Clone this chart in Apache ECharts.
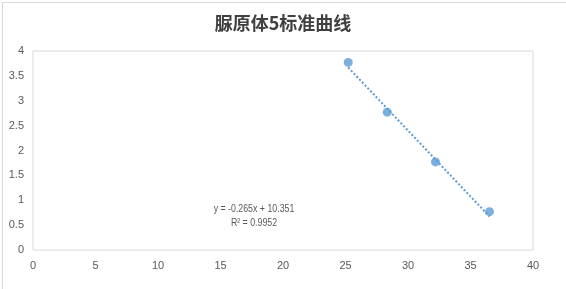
<!DOCTYPE html>
<html><head><meta charset="utf-8">
<script src="https://cdn.jsdelivr.net/npm/echarts@6/dist/echarts.min.js"></script>
<style>html,body{margin:0;padding:0;background:#fff}#c{width:566px;height:289px}</style>
</head><body><div id="c"></div>
<script>
const titleText = '脲原体5标准曲线';
const xValues = [25.22, 28.34, 32.2, 36.52];
const yValues = [3.77, 2.77, 1.77, 0.77];
const slope = -0.265, intercept = 10.351, r2 = 0.9952;
const xTicks = [0, 5, 10, 15, 20, 25, 30, 35, 40];
const yTicks = [0, 0.5, 1, 1.5, 2, 2.5, 3, 3.5, 4];

const pts = xValues.map((x, i) => [x, yValues[i]]);
const xmin = Math.min(...xValues), xmax = Math.max(...xValues);
const trend = [[xmin, slope * xmin + intercept], [xmax, slope * xmax + intercept]];

const chart = echarts.init(document.getElementById('c'));
const labelColor = '#595959';
chart.setOption({
  animation: false,
  title: { text: titleText, left: 'center', top: 9,
    textStyle: { fontFamily: 'Noto Sans CJK SC', fontSize: 18, fontWeight: 'bold', color: '#404040' } },
  grid: { left: 33, right: 33, top: 51, bottom: 39, show: true, borderColor: '#d9d9d9', borderWidth: 1 },
  xAxis: { type: 'value', min: xTicks[0], max: xTicks[xTicks.length-1], interval: 5,
    axisLine: { show: false }, axisTick: { show: false }, splitLine: { show: false },
    axisLabel: { color: labelColor, fontSize: 11, fontFamily: 'Liberation Sans', margin: 10 } },
  yAxis: { type: 'value', min: yTicks[0], max: yTicks[yTicks.length-1], interval: 0.5,
    axisLine: { show: false }, axisTick: { show: false }, splitLine: { show: false },
    axisLabel: { color: labelColor, fontSize: 11, fontFamily: 'Liberation Sans', margin: 9 } },
  series: [
    { type: 'line', data: trend, symbol: 'none', silent: true,
      lineStyle: { color: '#5B9BD5', width: 2, type: [2, 2] } },
    { type: 'scatter', data: pts, symbolSize: 9, itemStyle: { color: '#5B9BD5' } }
  ],
  graphic: [
    { type: 'rect', left: 0, top: 0, shape: { width: 565, height: 288 },
      style: { fill: 'none', stroke: '#d9d9d9', lineWidth: 1 }, silent: true },
    { type: 'text', x: 254, y: 203, scaleX: 0.8, style: { text: 'y = ' + slope.toFixed(3) + 'x + ' + intercept.toFixed(3),
      fill: labelColor, align: 'center', font: '11px "Liberation Sans"' } },
    { type: 'text', x: 254, y: 217, scaleX: 0.8, style: { text: 'R² = ' + r2.toFixed(4),
      fill: labelColor, align: 'center', font: '11px "Liberation Sans"' } }
  ]
});
</script></body></html>
